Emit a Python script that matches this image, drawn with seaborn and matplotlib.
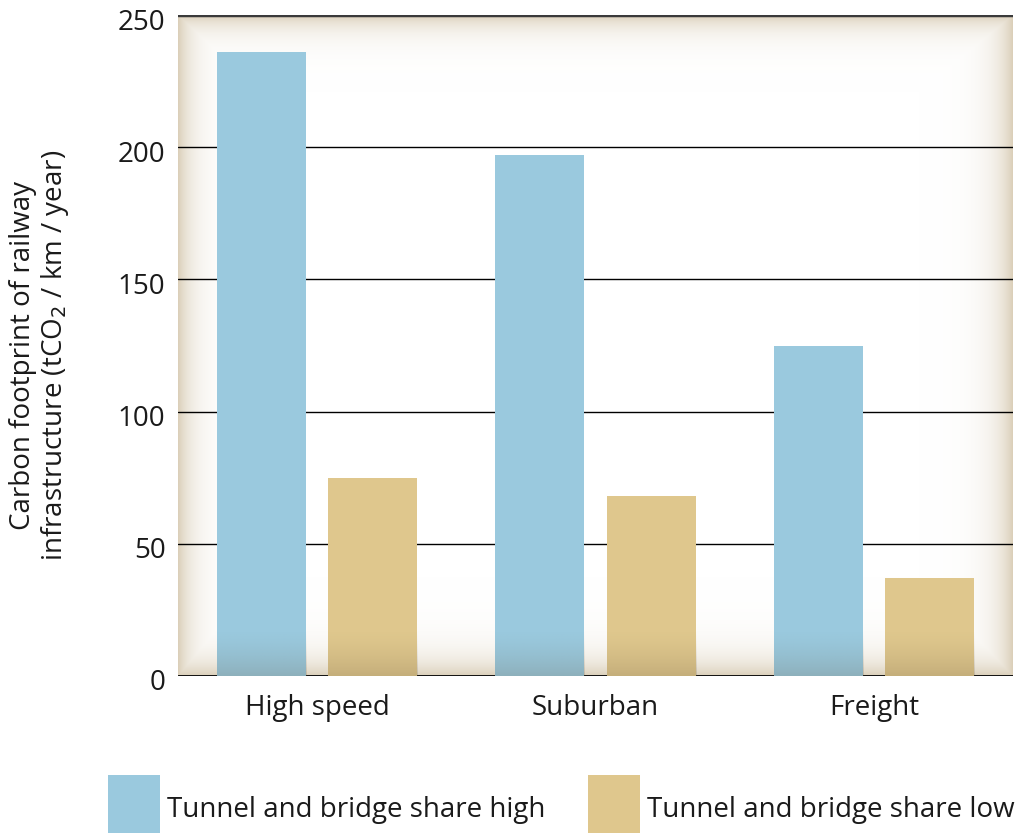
import numpy as np
import pandas as pd
import matplotlib
matplotlib.use("Agg")
import matplotlib.pyplot as plt
import seaborn as sns
from matplotlib.patches import Rectangle
from matplotlib.colors import to_rgb
from matplotlib.transforms import ScaledTranslation

# Data
categories = ["High speed", "Suburban", "Freight"]
share_levels = ["Tunnel and bridge share high", "Tunnel and bridge share low"]
high_share = [236, 197, 125]
low_share = [75, 68, 37]
y_ticks = [0, 50, 100, 150, 200, 250]

df = pd.DataFrame({
    "category": categories * 2,
    "share": [share_levels[0]] * len(categories) + [share_levels[1]] * len(categories),
    "value": high_share + low_share,
})

sns.set_theme(style="white")
plt.rcParams["font.family"] = ["Open Sans", "DejaVu Sans"]
TEXT = "#1a1a1a"
FS = 20
palette = ["#9AC9DE", "#DFC78D"]

W_PX, H_PX = 1020, 833
fig = plt.figure(figsize=(W_PX / 100, H_PX / 100), dpi=100)
fig.patch.set_facecolor("white")
L, R, T, B = 178, 1013, 15, 676
ax = fig.add_axes([L / W_PX, 1 - B / H_PX, (R - L) / W_PX, (B - T) / H_PX])
ax.set_facecolor("white")

# Soft beige vignette behind the plotting area
h, w = B - T, R - L
yy, xx = np.mgrid[0:h, 0:w]
alpha = np.maximum.reduce([
    np.exp(-xx / 15.0),
    np.exp(-(w - 1 - xx) / 17.0),
    np.exp(-yy / 14.0),
    np.exp(-(h - 1 - yy) / 18.0),
])
bg = np.zeros((h, w, 4))
bg[..., :3] = to_rgb("#d9cdb6")
bg[..., 3] = np.clip(alpha, 0, 1) * 0.95
ax.imshow(bg, extent=(0, 1, 0, 1), transform=ax.transAxes, aspect="auto",
          zorder=0, interpolation="bilinear")

sns.barplot(data=df, x="category", y="value", hue="share",
            order=categories, hue_order=share_levels, palette=palette,
            width=0.8, gap=0.2, saturation=1, legend=False,
            linewidth=0, errorbar=None, ax=ax, zorder=3)

# Darker shading toward the foot of each bar
shade_h = 18.0
n = 200
t = np.linspace(0, 1, n)[:, None]
grad = np.zeros((n, 1, 4))
grad[..., :3] = to_rgb("#5a4a30")
grad[..., 3] = 0.2 * (t ** 1.6)
for p in list(ax.patches):
    x0, wd, ht = p.get_x(), p.get_width(), p.get_height()
    top = min(ht, shade_h)
    ax.imshow(grad, extent=(x0, x0 + wd, 0, top), aspect="auto",
              zorder=4, interpolation="bilinear", origin="upper")

# Grid and frame lines
for v in y_ticks[1:-1]:
    ax.axhline(v, color="black", lw=1.0, zorder=2)
ax.axhline(y_ticks[-1], color="#3a3a3a", lw=2.5, zorder=5)
ax.axhline(0, color="black", lw=2.0, zorder=2)

ax.set_xlim(-0.5, len(categories) - 0.5)
ax.set_ylim(0, 250)
ax.set_yticks(y_ticks)
ax.set_yticklabels([str(v) for v in y_ticks])
ax.tick_params(axis="y", length=0, pad=9, labelsize=FS, labelcolor=TEXT)
ax.tick_params(axis="x", length=0, pad=13, labelsize=FS, labelcolor=TEXT)
shift = ScaledTranslation(0, -4 / 100, fig.dpi_scale_trans)
for lab in ax.get_yticklabels():
    lab.set_transform(lab.get_transform() + shift)
ax.set_xlabel("")
ax.set_ylabel("")
for s in ax.spines.values():
    s.set_visible(False)

fig.text(40 / W_PX, 1 - 355 / H_PX,
         "Carbon footprint of railway\ninfrastructure (tCO$_2$ / km / year)",
         rotation=90, ha="center", va="center", fontsize=FS, color=TEXT,
         linespacing=1.1)

# Legend
legend_x = [108, 588]
for lx, label, col in zip(legend_x, share_levels, palette):
    fig.patches.append(Rectangle((lx / W_PX, 0), 52 / W_PX, 58 / H_PX,
                                 transform=fig.transFigure, facecolor=col,
                                 edgecolor="none"))
    fig.text((lx + 59) / W_PX, 1 - 817 / H_PX, label, ha="left", va="baseline",
             fontsize=FS, color=TEXT)

fig.savefig("out.png", dpi=100)
